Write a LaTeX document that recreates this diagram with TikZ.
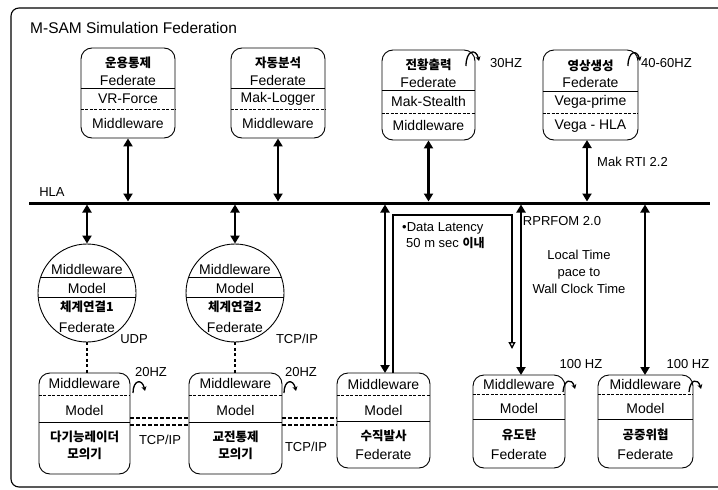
\documentclass[tikz,border=0pt]{standalone}
\usepackage{fontspec}
\setmainfont{Liberation Sans}
\newfontfamily\kr{Noto Sans CJK KR}
\usetikzlibrary{arrows.meta,calc}

\begin{document}
\begin{tikzpicture}[x=1pt,y=-1pt,
  box/.style={draw, rounded corners=11pt, line width=0.9pt, inner sep=0pt},
  circ/.style={draw, circle, line width=0.9pt, inner sep=0pt, minimum size=98pt},
  t/.style={font=\fontsize{14}{16}\selectfont, inner sep=0pt},
  k/.style={font=\kr\bfseries\fontsize{12.5}{14}\selectfont, inner sep=0pt},
  lbl/.style={font=\fontsize{13}{15}\selectfont, inner sep=0pt},
  biarrow/.style={line width=2.2pt, {Triangle[length=8pt,width=9pt]}-{Triangle[length=8pt,width=9pt]}},
  div/.style={line width=0.8pt},
  ddiv/.style={line width=0.7pt, dash pattern=on 3pt off 1.5pt},
  curl/.style={line width=1.3pt, -{Stealth[length=4.5pt,width=5pt]}},
  dlink/.style={line width=1.6pt, dash pattern=on 3pt off 2.5pt},
  dlink2/.style={line width=1.1pt, dash pattern=on 4pt off 2pt},
]
\useasboundingbox (0,0) rectangle (718,490);

% outer frame
\draw[line width=1.1pt, rounded corners=8pt] (725,8) -- (11,8) -- (11,487) -- (725,487);
\node[font=\fontsize{15.5}{17}\selectfont, inner sep=0pt, anchor=west] (title) at (30,28) {M-SAM Simulation Federation};

% HLA bus
\coordinate (hlaL) at (29,203);
\coordinate (hlaR) at (710,203);
\draw[line width=3pt] (hlaL) -- (hlaR);
\node[lbl] (hla) at (52,192) {HLA};

% ---------- top federates ----------
\node[box, minimum width=94pt, minimum height=90pt] (b1) at (128,93) {};
\node[box, minimum width=94pt, minimum height=90pt] (b2) at (278,93) {};
\node[box, minimum width=93pt, minimum height=90pt] (b3) at (428.5,95) {};
\node[box, minimum width=95pt, minimum height=90pt] (b4) at (590.5,95) {};

\draw[div] (b1.west |- 0,88) -- (b1.east |- 0,88);
\draw[ddiv] (b1.west |- 0,109) -- (b1.east |- 0,109);
\draw[div] (b2.west |- 0,88) -- (b2.east |- 0,88);
\draw[ddiv] (b2.west |- 0,109) -- (b2.east |- 0,109);
\draw[div] (b3.west |- 0,90) -- (b3.east |- 0,90);
\draw[ddiv] (b3.west |- 0,113) -- (b3.east |- 0,113);
\draw[div] (b4.west |- 0,91) -- (b4.east |- 0,91);
\draw[ddiv] (b4.west |- 0,113) -- (b4.east |- 0,113);

\node[k] (b1a) at (128,63) {운용통제};
\node[t] (b1b) at (128,80) {Federate};
\node[t] (b1c) at (128,99) {VR-Force};
\node[t] (b1d) at (128,123) {Middleware};

\node[k] (b2a) at (278,63) {자동분석};
\node[t] (b2b) at (278,80) {Federate};
\node[t] (b2c) at (278,99) {Mak-Logger};
\node[t] (b2d) at (278,123) {Middleware};

\node[k] (b3a) at (428.5,65) {전황출력};
\node[t] (b3b) at (428.5,82) {Federate};
\node[t] (b3c) at (428.5,101) {Mak-Stealth};
\node[t] (b3d) at (428.5,125) {Middleware};

\node[k] (b4a) at (590.5,66) {영상생성};
\node[t] (b4b) at (590.5,82) {Federate};
\node[t] (b4c) at (590.5,102) {Vega-prime};
\node[t] (b4d) at (590.5,126) {Vega - HLA};

\draw[biarrow, shorten >=1.5pt] (b1.south) -- (b1.south |- hlaL);
\draw[biarrow, shorten >=1.5pt] (b2.south) -- (b2.south |- hlaL);
\draw[biarrow, shorten >=1.5pt] (b3.south) -- (b3.south |- hlaL);
\coordinate (b4s) at (587,140);
\draw[biarrow, shorten >=1.5pt] (b4s) -- (b4s |- hlaL);

\draw[curl] (466,66) .. controls (466,50) and (476,48) .. (479,61);
\node[lbl, anchor=west] (hz30) at (490,63) {30HZ};
\draw[curl] (628,66) .. controls (628,51) and (637,49) .. (640,61);
\node[lbl, anchor=west] (hz4060) at (641,63) {40-60HZ};
\node[lbl, anchor=west] (rti) at (597,162) {Mak RTI 2.2};

% ---------- circle federates ----------
\node[circ] (c1) at (87,293) {};
\node[circ] (c2) at (235,293) {};
\begin{scope}
  \clip (87,293) circle (49);
  \draw[div] (30,277) -- (145,277);
  \draw[div] (30,297) -- (145,297);
\end{scope}
\begin{scope}
  \clip (235,293) circle (49);
  \draw[div] (180,277) -- (290,277);
  \draw[div] (180,297) -- (290,297);
\end{scope}
\node[t] (c1a) at (87,269) {Middleware};
\node[t] (c1b) at (87,288) {Model};
\node[k] (c1c) at (87,307) {체계연결1};
\node[t] (c1d) at (87,327) {Federate};
\node[t] (c2a) at (235,269) {Middleware};
\node[t] (c2b) at (235,288) {Model};
\node[k] (c2c) at (235,307) {체계연결2};
\node[t] (c2d) at (235,327) {Federate};

\draw[biarrow, shorten <=1.5pt] (c1.north |- hlaL) -- (c1.north);
\draw[biarrow, shorten <=1.5pt] (c2.north |- hlaL) -- (c2.north);
\node[lbl] (udp) at (134,339) {UDP};
\node[lbl] (tcp1) at (297,339) {TCP/IP};

% ---------- bottom federates ----------
\node[box, minimum width=91pt, minimum height=101pt] (d1) at (84.5,423.5) {};
\node[box, minimum width=93pt, minimum height=101pt] (d2) at (235.5,423.5) {};
\node[box, minimum width=93pt, minimum height=95pt] (d3) at (383.5,420.5) {};
\node[box, minimum width=92pt, minimum height=93pt] (d4) at (519,421.5) {};
\node[box, minimum width=95pt, minimum height=93pt] (d5) at (645.5,421.5) {};

\draw[ddiv] (d1.west |- 0,395) -- (d1.east |- 0,395);
\draw[div] (d1.west |- 0,422) -- (d1.east |- 0,422);
\draw[ddiv] (d2.west |- 0,395) -- (d2.east |- 0,395);
\draw[div] (d2.west |- 0,422) -- (d2.east |- 0,422);
\draw[ddiv] (d3.west |- 0,395) -- (d3.east |- 0,395);
\draw[div] (d3.west |- 0,421) -- (d3.east |- 0,421);
\draw[ddiv] (d4.west |- 0,394) -- (d4.east |- 0,394);
\draw[div] (d4.west |- 0,419) -- (d4.east |- 0,419);
\draw[ddiv] (d5.west |- 0,394) -- (d5.east |- 0,394);
\draw[div] (d5.west |- 0,419) -- (d5.east |- 0,419);

\node[t] (d1a) at (84.5,383) {Middleware};
\node[t] (d1b) at (84.5,410) {Model};
\node[k] (d1c) at (84.5,437) {다기능레이더};
\node[k] (d1d) at (84.5,454) {모의기};

\node[t] (d2a) at (235.5,383) {Middleware};
\node[t] (d2b) at (235.5,410) {Model};
\node[k] (d2c) at (235.5,437) {교전통제};
\node[k] (d2d) at (235.5,454) {모의기};

\node[t] (d3a) at (383.5,384) {Middleware};
\node[t] (d3b) at (383.5,410) {Model};
\node[k] (d3c) at (383.5,436) {수직발사};
\node[t] (d3d) at (383.5,454) {Federate};

\node[t] (d4a) at (519,384) {Middleware};
\node[t] (d4b) at (519,408) {Model};
\node[k] (d4c) at (519,435) {유도탄};
\node[t] (d4d) at (519,454) {Federate};

\node[t] (d5a) at (645.5,384) {Middleware};
\node[t] (d5b) at (645.5,408) {Model};
\node[k] (d5c) at (645.5,435) {공중위협};
\node[t] (d5d) at (645.5,454) {Federate};

% dashed links circle -> simulator
\draw[dlink] (c1.south) -- (d1.north -| c1.south);
\draw[dlink] (c2.south) -- (d2.north -| c2.south);

% double dashed links between simulators
\draw[dlink2] (d1.east |- 0,418) -- (d2.west |- 0,418);
\draw[dlink2] (d1.east |- 0,425) -- (d2.west |- 0,425);
\draw[dlink2] (d2.east |- 0,418) -- (d3.west |- 0,418);
\draw[dlink2] (d2.east |- 0,425) -- (d3.west |- 0,425);
\node[lbl] (tcp2) at (160,440) {TCP/IP};
\node[lbl] (tcp3) at (306,447) {TCP/IP};

% curls and rates
\draw[curl] (133,393) .. controls (133,380) and (142,378) .. (145,391);
\node[lbl] (hz20a) at (151,372) {20HZ};
\draw[curl] (284,393) .. controls (284,380) and (293,378) .. (296,391);
\node[lbl] (hz20b) at (301,372) {20HZ};
\draw[curl] (563,392) .. controls (564,379) and (572,378) .. (575,389);
\node[lbl] (hz100a) at (581,364) {100 HZ};
\draw[curl] (689,392) .. controls (690,379) and (698,378) .. (701,389);
\node[lbl] (hz100b) at (688,364) {100 HZ};

% HLA to bottom federates
\coordinate (d3x) at (385,373);
\draw[biarrow, shorten <=1.5pt] (d3x |- hlaL) -- (d3x);
\coordinate (d4x) at (521,375);
\draw[biarrow, shorten <=1.5pt] (d4x |- hlaL) -- (d4x);
\coordinate (d5x) at (645,375);
\draw[biarrow, shorten <=1.5pt] (d5x |- hlaL) -- (d5x);

% data latency path
\coordinate (lat0) at (393,373);
\coordinate (lat1) at (393,215);
\coordinate (lat2) at (512,215);
\coordinate (lat3) at (512,349);
\draw[line width=1.3pt, -{Triangle[open,length=7pt,width=7pt]}] (lat0) -- (lat1) -- (lat2) -- (lat3);
\node[lbl, anchor=west] (lat) at (402,228) {•Data Latency};
\node[lbl, anchor=west] (lat50) at (406,243) {50 m sec {\kr\bfseries\fontsize{12}{14}\selectfont 이내}};

\node[lbl] (rpr) at (562,221) {RPRFOM 2.0};
\node[lbl, align=center, font=\fontsize{13}{17}\selectfont] (local) at (579,272) {Local Time\\pace to\\Wall Clock Time};

\end{tikzpicture}
\end{document}
